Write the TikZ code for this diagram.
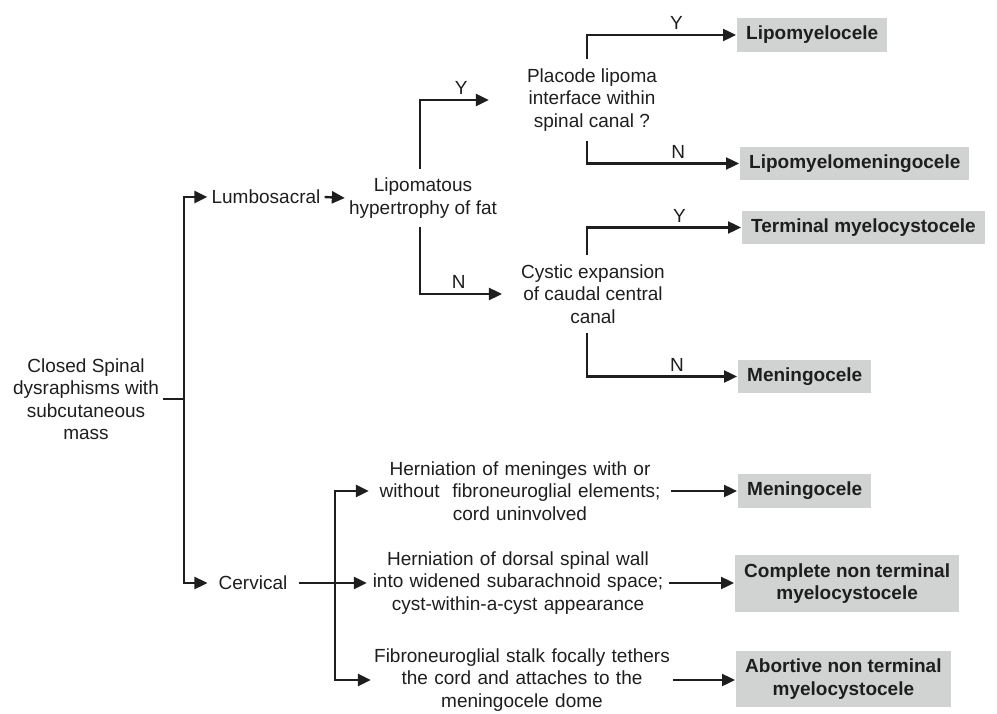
\documentclass[tikz,border=0pt]{standalone}
\usepackage{fontspec}
\setmainfont{Liberation Sans}
\usetikzlibrary{arrows.meta}
\definecolor{ink}{RGB}{30,30,30}
\definecolor{boxgray}{RGB}{209,211,210}
\tikzset{
  txt/.style={align=center, inner xsep=3pt, inner ysep=8pt, text=ink},
  result/.style={anchor=west, fill=boxgray, font=\fontsize{19}{22.5}\selectfont\bfseries, align=center, inner xsep=9pt, inner ysep=8pt, text=ink},
  hern/.style={txt, text width=296pt, inner xsep=2pt},
  arr/.style={-{Triangle[length=13pt,width=12pt]}},
  yn/.style={above, inner sep=4pt, pos=0.8, text=ink}
}
\begin{document}
\begin{tikzpicture}[x=1pt,y=-1pt,line width=2.4pt,draw=ink,font=\fontsize{19}{22.5}\selectfont]
\useasboundingbox (0,0) rectangle (997,714);

% Root and first split
\node[txt] (root) at (86,399) {Closed Spinal\\dysraphisms with\\subcutaneous\\mass};
\coordinate (fork) at ([xshift=21pt]root.east);
\node[txt] (lumbo) at (266,197) {Lumbosacral};
\node[txt, inner xsep=10pt] (cerv) at (253,583) {Cervical};
\draw (root.east) -- (fork);
\draw[arr] (fork) |- (lumbo.west);
\draw[arr] (fork) |- (cerv.west);

% Lumbosacral branch
\node[txt] (lipo) at (423,198) {Lipomatous\\hypertrophy of fat};
\draw[arr] (lumbo.east) -- (lipo.west);

\node[txt] (placode) at (592,100) {Placode lipoma\\interface within\\spinal canal ?};
\node[txt] (cystic) at (593,294) {Cystic expansion\\of caudal central\\canal};
\draw[arr, shorten >=34pt] ([xshift=-3pt]lipo.north) |- node[yn, pos=0.7] {Y} (placode.west);
\draw[arr, shorten >=15pt] ([xshift=-3pt]lipo.south) |- node[yn, pos=0.7] {N} (cystic.west);

\node[result] (lmc) at (736,35) {Lipomyelocele};
\node[result] (lmmc) at (739,163.5) {Lipomyelomeningocele};
\node[result] (tmc) at (741,227.5) {Terminal myelocystocele};
\node[result] (men1) at (737,376.5) {Meningocele};
\draw[arr] ([xshift=-5pt]placode.north) |- node[yn] {Y} (lmc.west);
\draw[arr] ([xshift=-5pt]placode.south) |- node[yn] {N} (lmmc.west);
\draw[arr] ([xshift=-6pt]cystic.north) |- node[yn] {Y} (tmc.west);
\draw[arr] ([xshift=-6pt]cystic.south) |- node[yn] {N} (men1.west);

% Cervical branch
\coordinate (cfork) at (335,583);
\node[hern] (hern1) at (520,491) {Herniation of meninges with or\\without\ \ fibroneuroglial elements;\\cord uninvolved};
\node[hern] (hern2) at (518,583) {Herniation of dorsal spinal wall\\into widened subarachnoid space;\\cyst-within-a-cyst appearance};
\node[hern] (hern3) at (522,680) {Fibroneuroglial stalk focally tethers\\the cord and attaches to the\\meningocele dome};
\draw[arr] (cerv.east) -- (cerv.east -| hern2.west);
\draw[arr] (cfork) |- (hern1.west);
\draw[arr] (cfork) |- (hern3.west);

\node[result] (men2) at (737,491) {Meningocele};
\node[result] (cntm) at (734,583.5) {Complete non terminal\\myelocystocele};
\node[result] (antm) at (735,679) {Abortive non terminal\\myelocystocele};
\draw[arr] (hern1.east) -- (hern1.east -| men2.west);
\draw[arr] (hern2.east) -- (hern2.east -| cntm.west);
\draw[arr] (hern3.east) -- (hern3.east -| antm.west);

\end{tikzpicture}
\end{document}
